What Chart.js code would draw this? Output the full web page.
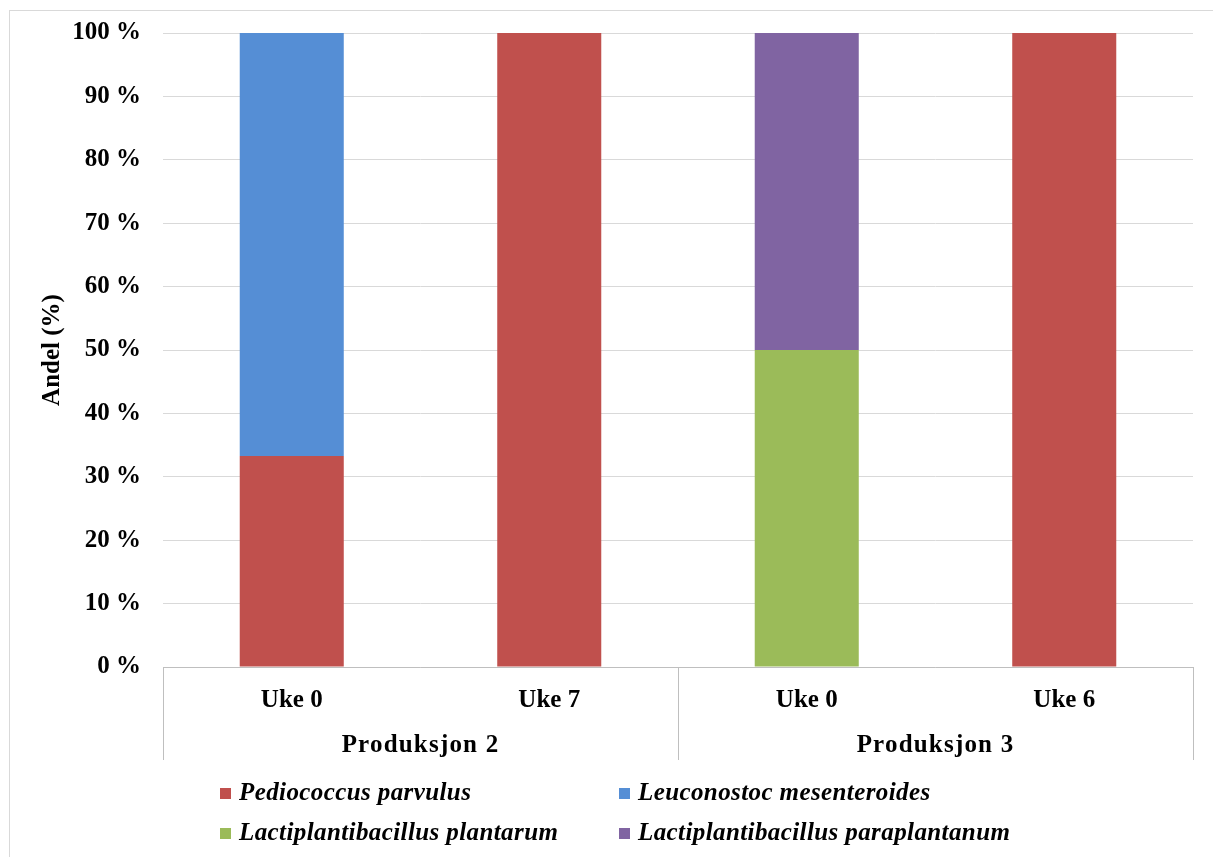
<!DOCTYPE html>
<html>
<head>
<meta charset="utf-8">
<script src="https://cdn.jsdelivr.net/npm/chart.js@4/dist/chart.umd.min.js"></script>
<style>
  html, body { margin: 0; padding: 0; background: #fff; }
  #frame { position: absolute; left: 9px; top: 10px; width: 1220px; height: 860px;
           border-left: 1px solid #d9d9d9; border-top: 1px solid #d9d9d9; }
  #wrap { position: absolute; left: 0; top: 0; width: 1213px; height: 857px; }
</style>
</head>
<body>
<div id="frame"></div>
<div id="wrap"><canvas id="c" width="1213" height="857"></canvas></div>
<script>
// Sampling weeks, grouped by production batch
const weeks = ["Uke 0", "Uke 7", "Uke 0", "Uke 6"];
const groups = ["Produksjon 2", "Produksjon 3"];
const groupSizes = [2, 2];

// Share of isolates (%) per species
const pediococcusParvulus = [33.3, 100, 0, 100];
const leuconostocMesenteroides = [66.7, 0, 0, 0];
const lactiplantibacillusPlantarum = [0, 0, 50, 0];
const lactiplantibacillusParaplantanum = [0, 0, 50, 0];

const speciesNames = [
  "Pediococcus parvulus",
  "Leuconostoc mesenteroides",
  "Lactiplantibacillus plantarum",
  "Lactiplantibacillus paraplantanum"
];
const speciesColors = ["#C0504D", "#558ED5", "#9BBB59", "#8064A2"];
const seriesValues = [pediococcusParvulus, leuconostocMesenteroides,
                      lactiplantibacillusPlantarum, lactiplantibacillusParaplantanum];

const yTicks = [0, 10, 20, 30, 40, 50, 60, 70, 80, 90, 100];

const FONT = "'Liberation Serif', 'Times New Roman', serif";

// Group separators, group labels and a two-column legend
const groupAxisPlugin = {
  id: "groupAxis",
  afterDraw(chart) {
    const ctx = chart.ctx;
    const x = chart.scales.x;
    const area = chart.chartArea;
    ctx.save();
    // baseline
    ctx.strokeStyle = "#bfbfbf";
    ctx.lineWidth = 1;
    ctx.beginPath();
    ctx.moveTo(area.left, area.bottom + 0.5);
    ctx.lineTo(area.right, area.bottom + 0.5);
    ctx.stroke();
    // group boundaries
    const bounds = [area.left];
    let idx = 0;
    groupSizes.forEach((n) => {
      idx += n;
      if (idx < weeks.length) {
        bounds.push((x.getPixelForValue(idx - 1) + x.getPixelForValue(idx)) / 2);
      } else {
        bounds.push(area.right);
      }
    });
    ctx.beginPath();
    bounds.forEach(b => {
      const bx = Math.round(b) + 0.5;
      ctx.moveTo(bx, area.bottom);
      ctx.lineTo(bx, area.bottom + 93);
    });
    ctx.stroke();
    // group labels
    ctx.fillStyle = "#000";
    ctx.font = "bold 25px " + FONT;
    ctx.letterSpacing = "1.2px";
    ctx.textAlign = "center";
    ctx.textBaseline = "middle";
    groups.forEach((g, i) => {
      ctx.fillText(g, (bounds[i] + bounds[i + 1]) / 2, area.bottom + 79);
    });
    // legend
    const cols = [area.left + 57, area.left + 456];
    const rows = [area.bottom + 126, area.bottom + 166];
    ctx.textAlign = "left";
    ctx.letterSpacing = "0.4px";
    ctx.font = "italic bold 25px " + FONT;
    speciesNames.forEach((name, i) => {
      const cx = cols[i % 2];
      const cy = rows[Math.floor(i / 2)];
      ctx.fillStyle = speciesColors[i];
      ctx.fillRect(cx, cy - 5, 11, 11);
      ctx.fillStyle = "#000";
      ctx.fillText(name, cx + 19, cy + 1);
    });
    ctx.restore();
  }
};

new Chart(document.getElementById("c"), {
  type: "bar",
  data: {
    labels: weeks,
    datasets: speciesNames.map((name, i) => ({
      label: name,
      data: seriesValues[i],
      backgroundColor: speciesColors[i],
      borderWidth: 0,
      categoryPercentage: 1.0,
      barPercentage: 0.404
    }))
  },
  options: {
    responsive: false,
    animation: false,
    layout: { padding: { left: 38, right: 20, top: 33, bottom: 90 } },
    plugins: { legend: { display: false }, tooltip: { enabled: false } },
    scales: {
      x: {
        stacked: true,
        grid: { display: false },
        border: { display: false },
        ticks: { color: "#000", font: { family: FONT, size: 25, weight: "bold" }, padding: 11 },
        afterFit(scale) { scale.height = 100; }
      },
      y: {
        stacked: true,
        min: 0,
        max: 100,
        afterBuildTicks(scale) { scale.ticks = yTicks.map(v => ({ value: v })); },
        grid: { color: "#d9d9d9", lineWidth: 1, drawTicks: false },
        border: { display: false },
        ticks: {
          color: "#000",
          font: { family: FONT, size: 25, weight: "bold" },
          padding: 22,
          callback: v => v + " %"
        },
        title: {
          display: true,
          text: "Andel (%)",
          color: "#000",
          font: { family: FONT, size: 25, weight: "bold" },
          padding: { top: 0, bottom: 10 }
        },
        afterFit(scale) {
          scale.width = 125;
          scale.paddingTop = 0;
          scale.paddingBottom = 0;
        }
      }
    }
  },
  plugins: [groupAxisPlugin]
});
</script>
</body>
</html>
